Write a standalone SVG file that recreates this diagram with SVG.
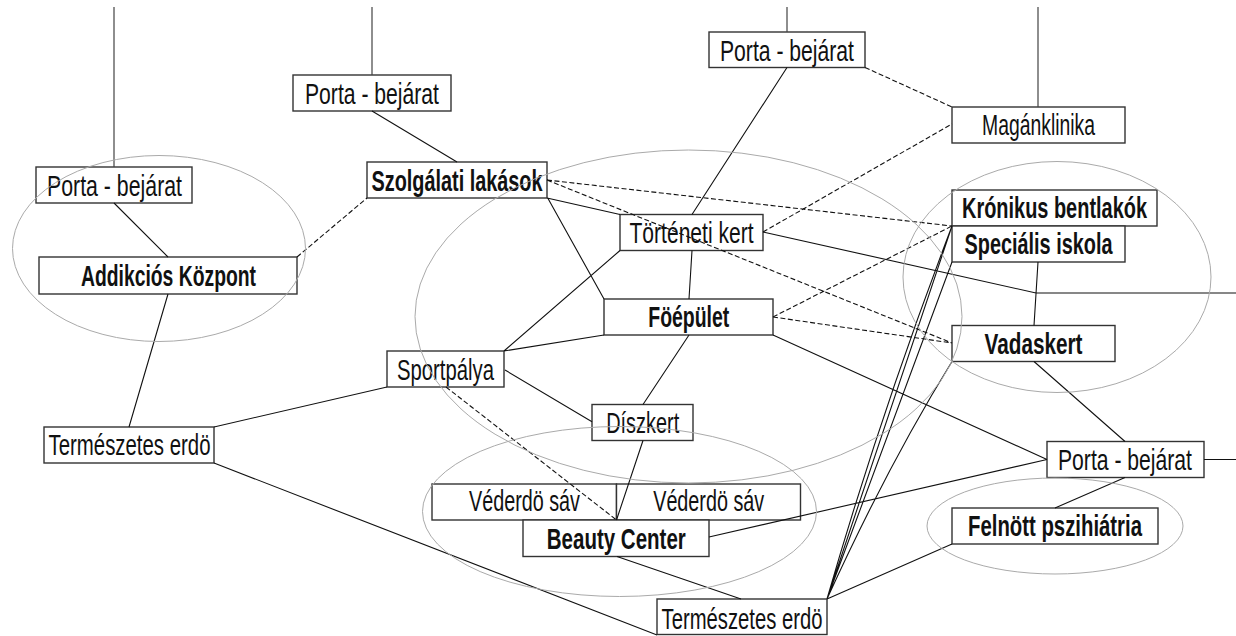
<svg xmlns="http://www.w3.org/2000/svg" width="1236" height="636" viewBox="0 0 1236 636">
<style>
.box{fill:#fff;stroke:#333;stroke-width:1.4}
.t{font-family:"Liberation Sans",Arial,sans-serif;font-size:30px;fill:#111;text-anchor:middle}
.b{font-weight:bold}
.c{fill:none;stroke:#111;stroke-width:1.1}
.d{fill:none;stroke:#111;stroke-width:1.1;stroke-dasharray:5,2.5}
.g{fill:none;stroke:#444;stroke-width:1.2}
.e{fill:none;stroke:#aaa;stroke-width:1}
</style>
<rect width="1236" height="636" fill="#fff"/>
<g id="nodes">
<g id="porta1"><rect class="box" x="36" y="167" width="156" height="36"/><text class="t" x="114.5" y="196" textLength="135" lengthAdjust="spacingAndGlyphs">Porta - bejárat</text></g>
<g id="porta2"><rect class="box" x="293" y="75" width="158" height="36"/><text class="t" x="372" y="104" textLength="134" lengthAdjust="spacingAndGlyphs">Porta - bejárat</text></g>
<g id="porta3"><rect class="box" x="709" y="32" width="156" height="35.5"/><text class="t" x="787" y="60.5" textLength="134" lengthAdjust="spacingAndGlyphs">Porta - bejárat</text></g>
<g id="szolgalati"><rect class="box" x="367" y="162" width="180" height="36"/><text class="t b" x="457" y="190.5" textLength="171" lengthAdjust="spacingAndGlyphs">Szolgálati lakások</text></g>
<g id="addikcios"><rect class="box" x="39" y="257" width="258" height="37"/><text class="t b" x="168.5" y="286" textLength="175" lengthAdjust="spacingAndGlyphs">Addikciós Központ</text></g>
<g id="maganklinika"><rect class="box" x="952" y="107" width="173" height="36"/><text class="t" x="1038.5" y="134.5" textLength="113" lengthAdjust="spacingAndGlyphs">Magánklinika</text></g>
<g id="torteneti"><rect class="box" x="620" y="214.5" width="143" height="36"/><text class="t" x="691.5" y="242.5" textLength="124" lengthAdjust="spacingAndGlyphs">Történeti kert</text></g>
<g id="kronikus"><rect class="box" x="952" y="190" width="205" height="36"/><text class="t b" x="1054.5" y="218" textLength="185" lengthAdjust="spacingAndGlyphs">Krónikus bentlakók</text></g>
<g id="specialis"><rect class="box" x="952" y="226" width="173" height="36"/><text class="t b" x="1038.5" y="253.5" textLength="148" lengthAdjust="spacingAndGlyphs">Speciális iskola</text></g>
<g id="foepulet"><rect class="box" x="604" y="299" width="169" height="36"/><text class="t b" x="688.8" y="327" textLength="81" lengthAdjust="spacingAndGlyphs">Föépület</text></g>
<g id="vadaskert"><rect class="box" x="952" y="325.5" width="163" height="36"/><text class="t b" x="1033.5" y="353.5" textLength="98" lengthAdjust="spacingAndGlyphs">Vadaskert</text></g>
<g id="sportpalya"><rect class="box" x="387" y="351" width="117" height="36"/><text class="t" x="445.5" y="380" textLength="97" lengthAdjust="spacingAndGlyphs">Sportpálya</text></g>
<g id="diszkert"><rect class="box" x="592" y="404.5" width="101" height="36"/><text class="t" x="642.7" y="432.5" textLength="73" lengthAdjust="spacingAndGlyphs">Díszkert</text></g>
<g id="porta4"><rect class="box" x="1047" y="441.5" width="157" height="36"/><text class="t" x="1125" y="469.5" textLength="134" lengthAdjust="spacingAndGlyphs">Porta - bejárat</text></g>
<g id="termeszetes1"><rect class="box" x="44" y="427" width="170" height="36"/><text class="t" x="129.5" y="454.5" textLength="162" lengthAdjust="spacingAndGlyphs">Természetes erdö</text></g>
<g id="vedo1"><rect class="box" x="432" y="484" width="184.5" height="36"/><text class="t" x="524.5" y="511" textLength="111" lengthAdjust="spacingAndGlyphs">Véderdö sáv</text></g>
<g id="vedo2"><rect class="box" x="616.5" y="484" width="184" height="36"/><text class="t" x="708.7" y="511" textLength="111" lengthAdjust="spacingAndGlyphs">Véderdö sáv</text></g>
<g id="beauty"><rect class="box" x="523" y="520" width="186" height="36.5"/><text class="t b" x="616.3" y="548.5" textLength="139" lengthAdjust="spacingAndGlyphs">Beauty Center</text></g>
<g id="felnott"><rect class="box" x="952" y="508" width="206" height="36"/><text class="t b" x="1055" y="535.5" textLength="174" lengthAdjust="spacingAndGlyphs">Felnött pszihiátria</text></g>
<g id="termeszetes2"><rect class="box" x="657" y="599" width="170" height="35.5"/><text class="t" x="742" y="628.5" textLength="161" lengthAdjust="spacingAndGlyphs">Természetes erdö</text></g>
</g>
<g id="connectors">
<path class="g" d="M114,7V167M372,7V75M787,7V32M1038,7V107"/>
<path class="c" d="M114,203L168,257M372,111L457,162M168,294L129,427M214,427L387,387M214,463L657,635M787,67.5L692,214.5M547,198L620,214.5M548,198.5L604,299M763,232L1036,293H1236M692,250.5L689,299M620,250.5L504,351M504,351L604,335M505,370L592,421.7M689,335L643,404.5M643,440.5L616.5,520M773,335L1047,459.5M1034,361.5L1125,441.5M1038,262L1034,325.5M1204,459.5H1236M1125,477.5L1055,508M709,537L1047,459.5M617,556.5L741,599M952,544L827,599M827,599L952,226M827,599Q880,415 952,226M827,599L952,262M827,599Q888,465 952,361.5"/>
<path class="d" d="M297,257L367,198M547,180L952,226M547,180L952,343M865,67.5L952,107M763,232L952,124M773,317L952,226M773,317L952,343M446,387L616.5,520"/>
</g>
<g id="zones">
<ellipse class="e" cx="159" cy="248.5" rx="146.5" ry="93"/>
<ellipse class="e" cx="688.5" cy="316.5" rx="273.5" ry="166.5"/>
<ellipse class="e" cx="1057" cy="277" rx="154" ry="115.5"/>
<ellipse class="e" cx="619.5" cy="511.5" rx="197" ry="85"/>
<ellipse class="e" cx="1055" cy="526" rx="128" ry="48"/>
</g>
</svg>
